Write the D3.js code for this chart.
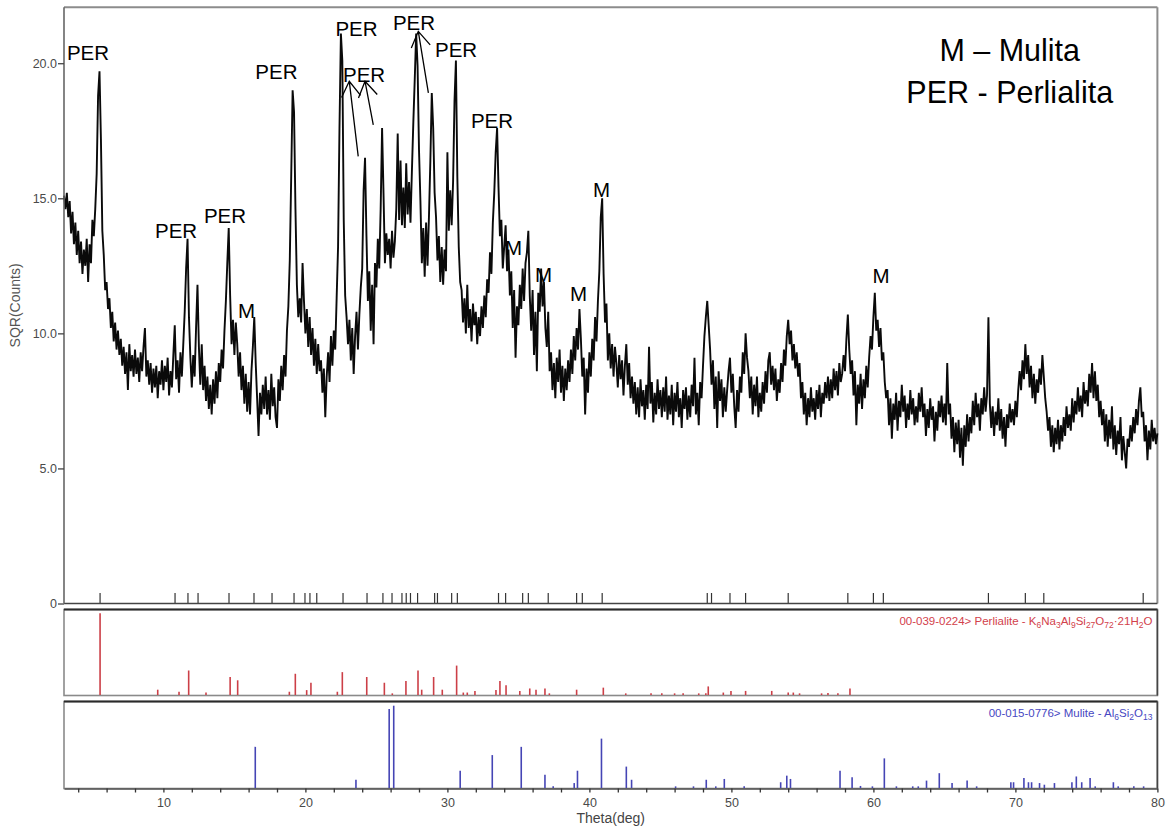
<!DOCTYPE html>
<html>
<head>
<meta charset="utf-8">
<script src="https://cdn.jsdelivr.net/npm/d3@7"></script>
<style>
  body { margin: 0; background: #fff; }
  svg { display: block; font-family: "Liberation Sans", Arial, Helvetica, sans-serif; }
</style>
</head>
<body>
<svg id="chart" width="1169" height="832"></svg>
<script>
// ---- Diffractogram: square root of counts, sampled every 0.1 deg from 3.0 to 80.0 ----
const thetaStart = 3.0;
const thetaStep = 0.1;
const sqrCounts = [
  15.1,14.6,15.2,14.3,14.9,13.7,14.5,13.3,14.1,12.9,
  13.8,12.6,13.4,12.2,13.1,12.5,13.5,11.9,13.3,12.6,
  14.2,13.6,14.6,15.9,18.8,19.7,17.2,13.8,12.9,11.6,
  11.9,10.9,11.3,10.2,10.8,9.7,10.4,9.4,10.1,9.2,
  9.8,8.8,9.5,8.5,9.3,7.9,9.6,8.6,9.2,8.4,
  9.4,8.5,9.1,8.2,9.3,8.6,9.5,10.2,8.4,9.0,
  8.1,8.9,7.8,8.7,8.0,8.8,7.6,8.6,8.1,9.0,
  7.9,8.8,8.2,9.1,7.7,8.6,8.0,9.2,10.3,8.3,
  9.0,7.8,9.3,8.4,9.6,10.8,12.4,13.5,10.6,9.1,
  8.0,9.2,8.4,10.2,11.8,9.5,8.1,9.6,7.9,8.8,
  7.5,8.4,7.2,8.1,7.0,8.3,7.4,8.6,7.6,8.9,
  8.2,9.4,8.7,10.1,11.2,12.6,13.9,11.4,9.6,10.5,
  9.2,10.4,9.6,8.4,9.3,7.9,8.8,7.4,8.5,7.1,
  8.2,7.0,8.6,9.5,10.6,8.9,7.6,6.2,7.8,7.0,
  8.1,7.2,8.4,7.0,7.9,6.8,8.5,7.3,8.0,6.9,
  6.5,8.3,7.5,8.8,7.9,9.2,8.4,10.1,11.0,12.7,
  15.8,19.0,18.2,14.6,11.8,10.6,11.3,10.4,12.6,11.2,
  10.0,10.9,9.5,10.6,9.2,10.2,8.8,9.8,8.5,9.6,
  8.6,9.0,7.8,8.7,6.9,8.4,9.3,8.2,9.9,8.8,
  10.1,9.4,11.3,13.2,17.6,21.1,20.1,14.2,11.4,10.6,
  9.6,10.5,9.0,10.2,8.5,9.9,10.8,9.4,10.7,11.7,
  12.4,15.3,16.5,13.6,11.2,12.3,10.1,11.8,9.6,12.6,
  11.7,13.5,12.4,14.6,17.6,15.2,12.6,13.7,12.9,13.5,
  12.4,13.8,12.8,13.4,14.6,17.4,14.2,16.4,14.0,15.4,
  13.9,16.3,14.4,15.6,14.1,16.0,17.8,19.4,21.1,19.9,
  16.8,14.9,12.6,13.9,12.1,14.1,12.5,14.3,16.4,18.9,
  17.6,15.2,14.3,12.7,13.6,11.9,13.2,11.8,13.1,12.3,
  16.7,13.8,15.3,14.0,15.6,18.6,20.1,15.8,13.2,11.9,
  11.6,10.4,11.3,10.0,11.8,10.2,10.9,9.7,11.1,10.3,
  10.8,9.6,10.6,9.9,11.0,10.2,11.4,10.6,12.0,11.5,
  13.0,12.2,14.1,15.2,16.7,17.6,15.4,13.6,14.2,12.4,
  13.2,14.0,12.3,13.1,11.4,12.3,10.2,11.6,9.1,11.0,
  10.3,11.8,10.9,12.4,11.2,12.6,13.0,13.8,11.4,10.1,
  11.6,9.2,10.8,8.6,11.5,10.8,12.4,11.0,11.9,10.2,
  9.5,10.8,8.6,9.3,7.9,8.9,7.6,9.1,8.2,9.4,
  7.8,8.8,7.5,8.7,7.9,9.0,8.2,9.4,8.5,9.9,
  9.0,10.2,9.4,10.9,9.8,8.4,9.1,7.0,8.7,7.8,
  9.3,8.4,9.8,9.0,10.6,9.7,11.2,12.3,14.3,15.0,
  12.2,10.4,11.1,9.0,10.0,8.7,9.6,8.4,9.5,8.9,
  8.0,9.2,8.3,9.0,7.7,8.8,9.6,8.1,8.9,7.6,
  8.4,7.4,8.2,7.0,8.0,6.9,8.3,7.3,7.9,6.8,
  8.1,7.2,9.5,7.4,8.2,6.7,7.8,7.0,8.3,7.2,
  7.9,6.9,8.0,7.1,8.4,6.8,7.7,7.0,8.1,6.6,
  7.8,7.1,8.2,6.9,7.6,6.5,7.9,7.2,8.0,6.8,
  7.7,6.9,8.1,7.3,9.1,7.0,7.8,6.6,8.2,7.6,
  8.8,9.9,10.6,11.2,10.3,9.4,8.1,9.0,7.2,8.4,
  6.5,8.6,7.5,8.3,6.9,8.0,7.1,7.9,8.6,9.1,
  7.8,8.5,7.3,6.5,7.9,7.1,8.4,7.8,9.3,8.5,
  10.0,9.1,8.6,7.6,8.4,7.0,8.1,7.3,8.4,6.9,
  7.8,7.1,8.2,7.4,8.6,7.8,9.0,9.3,8.1,8.8,
  7.9,8.7,7.5,8.3,7.8,8.9,8.2,9.4,8.8,9.9,
  10.5,9.6,10.1,9.0,9.6,8.7,9.3,8.4,8.9,7.6,
  8.2,7.0,7.8,6.6,7.6,6.9,8.0,7.1,7.6,6.8,
  7.9,7.2,8.1,6.9,7.8,7.4,8.2,7.6,8.4,7.5,
  8.3,7.6,8.7,7.9,8.6,7.7,8.9,8.2,8.5,9.2,
  8.6,9.8,10.7,9.4,8.5,9.0,7.7,8.6,6.6,8.1,
  7.4,8.5,7.2,8.3,7.6,8.8,8.0,9.1,9.9,9.4,
  10.6,11.5,10.1,10.5,9.5,10.2,9.0,9.3,8.2,7.6,
  7.9,6.6,7.6,6.1,7.4,6.8,7.8,6.4,7.5,6.9,
  8.1,7.1,7.7,6.5,7.4,6.8,7.9,7.0,7.6,6.6,
  7.3,6.7,7.8,7.1,8.0,6.9,7.4,6.2,7.2,6.5,
  7.6,6.8,7.3,6.0,7.1,6.4,7.5,6.9,7.7,6.7,
  7.4,6.6,8.9,7.0,7.4,6.1,6.9,5.6,6.7,5.9,
  6.8,5.4,6.5,5.1,6.6,5.8,7.0,6.0,6.9,6.3,
  7.5,6.6,7.8,6.9,7.4,6.4,7.6,7.0,8.0,7.1,
  7.7,10.6,7.4,6.5,7.3,6.2,7.1,6.6,7.6,6.4,
  7.2,6.1,6.9,5.8,7.0,6.5,7.4,6.7,7.2,6.6,
  7.5,6.9,7.9,8.6,7.9,9.0,8.3,9.6,8.5,9.2,
  8.0,8.8,7.6,8.5,7.4,8.3,7.8,8.7,8.1,9.2,
  8.4,7.6,7.1,6.4,6.9,5.8,6.6,5.6,6.5,5.9,
  6.8,5.7,6.6,6.0,6.9,6.2,7.3,6.5,7.0,6.4,
  7.6,6.7,7.5,7.0,8.0,7.1,7.7,6.9,8.2,7.4,
  7.9,7.3,8.5,7.8,8.9,7.6,8.6,7.5,8.1,6.9,
  7.5,6.6,7.2,6.0,7.0,5.8,6.8,6.1,7.3,5.7,
  6.6,5.5,6.4,5.9,6.9,5.3,6.2,5.6,5.0,6.1,
  5.8,6.6,6.0,6.9,6.3,7.2,6.6,7.5,8.0,6.9,
  7.1,6.0,6.6,5.3,6.4,5.7,6.8,6.0,6.5,5.9,
  6.3
];

// ---- Peak position markers along the base of the pattern (deg) ----
const markerTheta = [5.54, 10.82, 11.73, 12.44, 14.62, 16.38, 17.65, 19.2, 19.97, 20.32, 20.8,
  22.65, 24.34, 25.46, 26.1, 26.8, 27.1, 27.4, 27.9, 29.1, 29.3, 30.3, 30.7, 33.6, 34.1,
  35.3, 35.7, 37.1, 39.1, 39.5, 40.9, 48.3, 48.6, 49.9, 51.0, 54.0, 58.2, 60.0, 60.7,
  68.1, 70.7, 72.0, 79.0];

// ---- Reference card 00-039-0224 Perlialite: position (deg) and relative intensity (%) ----
const perlialiteTheta = [5.54, 9.6, 11.1, 11.78, 13.0, 14.7, 15.23, 18.87, 19.29, 20.09, 20.39,
  22.25, 22.6, 24.32, 25.56, 26.12, 27.08, 27.93, 28.19, 29.03, 29.64, 30.65, 31.12, 31.4,
  31.94, 33.42, 33.7, 34.13, 35.1, 35.8, 36.24, 36.87, 37.18, 39.1, 40.98, 42.56, 44.34,
  45.1, 46.0, 46.6, 47.7, 48.2, 48.37, 49.43, 49.97, 51.0, 52.84, 54.0, 54.36, 54.8, 56.35,
  56.8, 57.5, 58.35];
const perlialiteInt = [100, 6.5, 4, 30, 3, 22, 18, 4, 26, 6, 15,
  4, 28, 22, 15, 2, 17, 30, 6.5, 22, 6.5, 36, 3, 3,
  5, 6, 17, 12, 5, 8, 6.5, 8, 2, 6.5, 9, 2, 2,
  2, 2, 2, 2, 2, 10.5, 3, 5, 5, 5, 3, 3, 2, 2,
  2.5, 2, 8];

// ---- Reference card 00-015-0776 Mullite: position (deg) and relative intensity (%) ----
const mulliteTheta = [16.47, 23.56, 25.9, 26.22, 30.9, 33.16, 35.2, 36.87, 37.45, 38.93, 39.16,
  40.85, 42.6, 42.97, 46.07, 47.33, 48.23, 48.9, 49.5, 50.9, 53.47, 53.9, 54.16, 57.65, 58.5,
  59.09, 59.93, 60.77, 61.62, 62.77, 63.16, 63.74, 64.64, 65.54, 66.6, 67.27, 69.68, 69.87,
  70.6, 70.92, 71.14, 71.7, 72.04, 72.75, 73.98, 74.29, 74.67, 75.26, 75.62, 76.9, 77.24,
  78.34, 79.03];
const mulliteInt = [50, 10, 96, 100, 21, 40, 50, 16, 2, 6, 21,
  60, 26, 10, 2, 2, 10, 2, 11, 2, 7, 15, 11, 21, 13,
  2.5, 2, 36, 2, 2, 2, 9, 18, 6, 9, 2, 7, 7,
  12, 7, 7, 6, 4, 6, 7, 14, 7, 12, 2, 7, 2,
  2, 2];

// ---- Axes ----
const yTickValues = [0, 5, 10, 15, 20];
const xTickValues = [4, 6, 8, 10, 12, 14, 16, 18, 20, 22, 24, 26, 28, 30, 32, 34, 36, 38, 40,
  42, 44, 46, 48, 50, 52, 54, 56, 58, 60, 62, 64, 66, 68, 70, 72, 74, 76, 78, 80];
const xLabelValues = [10, 20, 30, 40, 50, 60, 70, 80];

// ---- Phase annotations (anchored in data space: theta, sqr counts) ----
const phaseLabelText = ["PER", "PER", "PER", "M", "PER", "PER", "PER", "PER", "PER", "PER", "M", "M", "M", "M", "M"];
const phaseLabelTheta = [4.69, 10.89, 14.34, 15.85, 17.96, 23.6, 24.13, 27.65, 30.61, 33.14, 34.65, 36.77, 39.23, 40.85, 60.54];
const phaseLabelValue = [20.13, 13.54, 14.09, 10.57, 19.43, 21.02, 19.31, 21.24, 20.24, 17.61, 12.91, 11.91, 11.2, 15.06, 11.87];

// arrows from a peak up to its label: tail and tip in data space
const arrowTailTheta = [23.72, 24.78, 28.66];
const arrowTailValue = [16.55, 17.72, 18.9];
const arrowTipTheta = [23.09, 24.2, 27.95];
const arrowTipValue = [19.33, 19.33, 21.18];

const legendLines = ["M \u2013 Mulita", "PER - Perlialita"];

const perCard = [["00-039-0224> Perlialite - K", 0], ["6", 1], ["Na", 0], ["3", 1], ["Al", 0], ["9", 1],
  ["Si", 0], ["27", 1], ["O", 0], ["72", 1], ["\u00b721H", 0], ["2", 1], ["O", 0]];
const mulCard = [["00-015-0776> Mulite - Al", 0], ["6", 1], ["Si", 0], ["2", 1], ["O", 0], ["13", 1]];

// ---- Layout ----
const L = 64, R = 1157.4;
const mainTop = 7.3, mainBase = 603.5;
const p2Top = 609.5, p2Bot = 695.5;
const p3Top = 701.5, p3Bot = 788.5;

const svg = d3.select("#chart");

const x = d3.scaleLinear().domain([3, 80]).range([L, R]);
const yMain = d3.scaleLinear().domain([0, 22.07]).range([mainBase, mainTop]);
const yPer = d3.scaleLinear().domain([0, 100]).range([p2Bot - 0.5, 613.3]);
const yMul = d3.scaleLinear().domain([0, 100]).range([p3Bot - 0.5, 705.7]);

// main frame (top and right in light gray)
svg.append("line").attr("x1", L).attr("x2", R).attr("y1", mainTop).attr("y2", mainTop)
  .attr("stroke", "#8c8c8c").attr("stroke-width", 2);
svg.append("line").attr("x1", R).attr("x2", R).attr("y1", mainTop).attr("y2", mainBase)
  .attr("stroke", "#8c8c8c").attr("stroke-width", 2);

// diffractogram
const line = d3.line()
  .x((d, i) => x(thetaStart + i * thetaStep))
  .y(d => yMain(d));
svg.append("path").datum(sqrCounts)
  .attr("d", line)
  .attr("fill", "none")
  .attr("stroke", "#0a0a0a")
  .attr("stroke-width", 1.9)
  .attr("stroke-linejoin", "bevel");

// peak markers
svg.append("g").selectAll("line").data(markerTheta).join("line")
  .attr("x1", d => x(d)).attr("x2", d => x(d))
  .attr("y1", mainBase - 10.5).attr("y2", mainBase)
  .attr("stroke", "#333").attr("stroke-width", 1.2);

// zero line
svg.append("line").attr("x1", L).attr("x2", R).attr("y1", mainBase).attr("y2", mainBase)
  .attr("stroke", "#444").attr("stroke-width", 1.6);

// left axis
const yAxis = d3.axisLeft(yMain).tickValues(yTickValues)
  .tickFormat(d => d === 0 ? "0" : d3.format(".1f")(d))
  .tickSize(6).tickSizeOuter(0);
const gy = svg.append("g").attr("transform", `translate(${L},0)`).call(yAxis);
gy.select(".domain").attr("stroke", "#666").attr("stroke-width", 1.6)
  .attr("d", `M0,${mainTop}V${mainBase}`);
gy.selectAll(".tick line").attr("stroke", "#444").attr("stroke-width", 1.3);
gy.selectAll(".tick text").attr("fill", "#4a4a4a").attr("font-size", 12.5)
  .attr("font-family", "'Liberation Sans', Arial, sans-serif").attr("x", -7);

svg.append("text")
  .attr("transform", `translate(20,${(mainTop + mainBase) / 2}) rotate(-90)`)
  .attr("text-anchor", "middle")
  .attr("fill", "#555").attr("font-size", 14)
  .text("SQR(Counts)");

// phase labels
svg.append("g").selectAll("text").data(phaseLabelText).join("text")
  .attr("x", (d, i) => x(phaseLabelTheta[i]))
  .attr("y", (d, i) => yMain(phaseLabelValue[i]))
  .attr("text-anchor", "middle")
  .attr("font-size", 20.5)
  .attr("fill", "#000")
  .text(d => d);

// arrows
const arrowG = svg.append("g").attr("stroke", "#000").attr("stroke-width", 1.3).attr("fill", "none");
arrowTailTheta.forEach((t, i) => {
  const x0 = x(t), y0 = yMain(arrowTailValue[i]);
  const x1 = x(arrowTipTheta[i]), y1 = yMain(arrowTipValue[i]);
  const ang = Math.atan2(y0 - y1, x0 - x1);
  const head = 18, spread = 0.56;
  const hx1 = x1 + head * Math.cos(ang - spread), hy1 = y1 + head * Math.sin(ang - spread);
  const hx2 = x1 + head * Math.cos(ang + spread), hy2 = y1 + head * Math.sin(ang + spread);
  arrowG.append("path").attr("d", `M${x0},${y0}L${x1},${y1}M${hx1},${hy1}L${x1},${y1}L${hx2},${hy2}`);
});

// legend
svg.append("g").selectAll("text").data(legendLines).join("text")
  .attr("x", x(69.6))
  .attr("y", (d, i) => yMain(20.1 - i * 1.58))
  .attr("text-anchor", "middle")
  .attr("font-size", 30.5)
  .attr("fill", "#000")
  .text(d => d);

// ---- stick panels ----
function panelFrame(top, bot) {
  svg.append("rect").attr("x", L).attr("y", top).attr("width", R - L).attr("height", bot - top)
    .attr("fill", "none").attr("stroke", "#8a8a8a").attr("stroke-width", 1.6);
  svg.append("line").attr("x1", L).attr("x2", R).attr("y1", top).attr("y2", top)
    .attr("stroke", "#2a2a2a").attr("stroke-width", 1.8);
  svg.append("line").attr("x1", R).attr("x2", R).attr("y1", top).attr("y2", bot)
    .attr("stroke", "#444").attr("stroke-width", 1.6);
}

function cardLabel(parts, yBase, color) {
  const t = svg.append("text").attr("x", R - 5).attr("y", yBase)
    .attr("text-anchor", "end").attr("fill", color).attr("font-size", 11.5);
  let shifted = false;
  parts.forEach(([s, sub]) => {
    const ts = t.append("tspan").text(s);
    if (sub && !shifted) { ts.attr("dy", 3).attr("font-size", 8.5); shifted = true; }
    else if (sub) { ts.attr("font-size", 8.5); }
    else if (!sub && shifted) { ts.attr("dy", -3); shifted = false; }
  });
}

panelFrame(p2Top, p2Bot);
svg.append("g").selectAll("line").data(perlialiteTheta).join("line")
  .attr("x1", d => x(d)).attr("x2", d => x(d))
  .attr("y1", yPer(0)).attr("y2", (d, i) => yPer(perlialiteInt[i]))
  .attr("stroke", "#cc3f47").attr("stroke-width", 1.6);
cardLabel(perCard, 624.5, "#d2414b");

panelFrame(p3Top, p3Bot);
svg.append("g").selectAll("line").data(mulliteTheta).join("line")
  .attr("x1", d => x(d)).attr("x2", d => x(d))
  .attr("y1", yMul(0)).attr("y2", (d, i) => yMul(mulliteInt[i]))
  .attr("stroke", "#4545b5").attr("stroke-width", 1.6);
cardLabel(mulCard, 717, "#4747c2");

// bottom axis
const xAxis = d3.axisBottom(x).tickValues(xTickValues)
  .tickFormat(d => xLabelValues.includes(d) ? String(d) : "")
  .tickSize(4).tickSizeOuter(0);
const gx = svg.append("g").attr("transform", `translate(0,${p3Bot})`).call(xAxis);
gx.select(".domain").attr("stroke", "#555").attr("stroke-width", 1.6);
gx.selectAll(".tick line").attr("stroke", "#333").attr("stroke-width", 1.3);
gx.selectAll(".tick text").attr("fill", "#4a4a4a").attr("font-size", 12.5)
  .attr("font-family", "'Liberation Sans', Arial, sans-serif").attr("dy", "0.95em");

svg.append("text")
  .attr("x", (L + R) / 2).attr("y", 823)
  .attr("text-anchor", "middle")
  .attr("fill", "#444").attr("font-size", 14)
  .text("Theta(deg)");
</script>
</body>
</html>
